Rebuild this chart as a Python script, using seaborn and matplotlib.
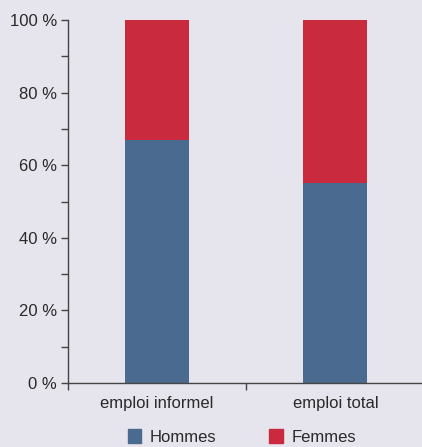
import seaborn as sns
import matplotlib.pyplot as plt
import matplotlib.patches as mpatches
from matplotlib.ticker import MultipleLocator, FixedLocator
import pandas as pd

categories = ['emploi informel', 'emploi total']
hommes = [67, 55]
femmes = [33, 45]
series_labels = ['Hommes', 'Femmes']

bg = '#e6e4ec'
blue = '#4a6a8f'
red = '#c92a3e'

sns.set_theme(style='ticks')
plt.rcParams['font.family'] = ['Liberation Sans Narrow', 'Liberation Sans', 'DejaVu Sans']

df = pd.DataFrame({'cat': categories, 'hommes': hommes,
                   'total': [h + f for h, f in zip(hommes, femmes)]})

fig = plt.figure(figsize=(4.22, 4.47), dpi=100, facecolor=bg)
ax = fig.add_axes([0.161, 0.143, 0.845, 0.812])
ax.set_facecolor(bg)

sns.barplot(data=df, x='cat', y='total', color=red, width=0.36, saturation=1,
            linewidth=0, ax=ax)
sns.barplot(data=df, x='cat', y='hommes', color=blue, width=0.36, saturation=1,
            linewidth=0, ax=ax)

ax.set_xlim(-0.5, 1.5)
ax.set_ylim(0, 100)
ax.yaxis.set_major_locator(MultipleLocator(20))
ax.yaxis.set_minor_locator(MultipleLocator(10))
ax.set_yticklabels([f'{int(v)} %' for v in ax.get_yticks()])
ax.xaxis.set_minor_locator(FixedLocator([-0.5, 0.5, 1.5]))
ax.tick_params(axis='x', which='major', length=0, labelsize=12, pad=9, colors='#2a2a2a')
ax.tick_params(axis='x', which='minor', length=5, width=1, color='#444444')
ax.tick_params(axis='y', which='both', length=5, width=1, color='#444444', labelsize=12,
               labelcolor='#2a2a2a', pad=3)
for s in ['top', 'right']:
    ax.spines[s].set_visible(False)
for s in ['left', 'bottom']:
    ax.spines[s].set_color('#444444')
    ax.spines[s].set_linewidth(1)
ax.set_xlabel('')
ax.set_ylabel('')

handles = [mpatches.Patch(color=blue, label=series_labels[0]),
           mpatches.Patch(color=red, label=series_labels[1])]
fig.legend(handles=handles, loc='center', bbox_to_anchor=(0.573, 0.022), ncol=2,
           frameon=False, fontsize=12, handlelength=0.8, handleheight=0.9,
           columnspacing=3.2, handletextpad=0.5, labelcolor='#2a2a2a',
           borderpad=0.1)

fig.savefig('out.png', dpi=100, facecolor=bg)
